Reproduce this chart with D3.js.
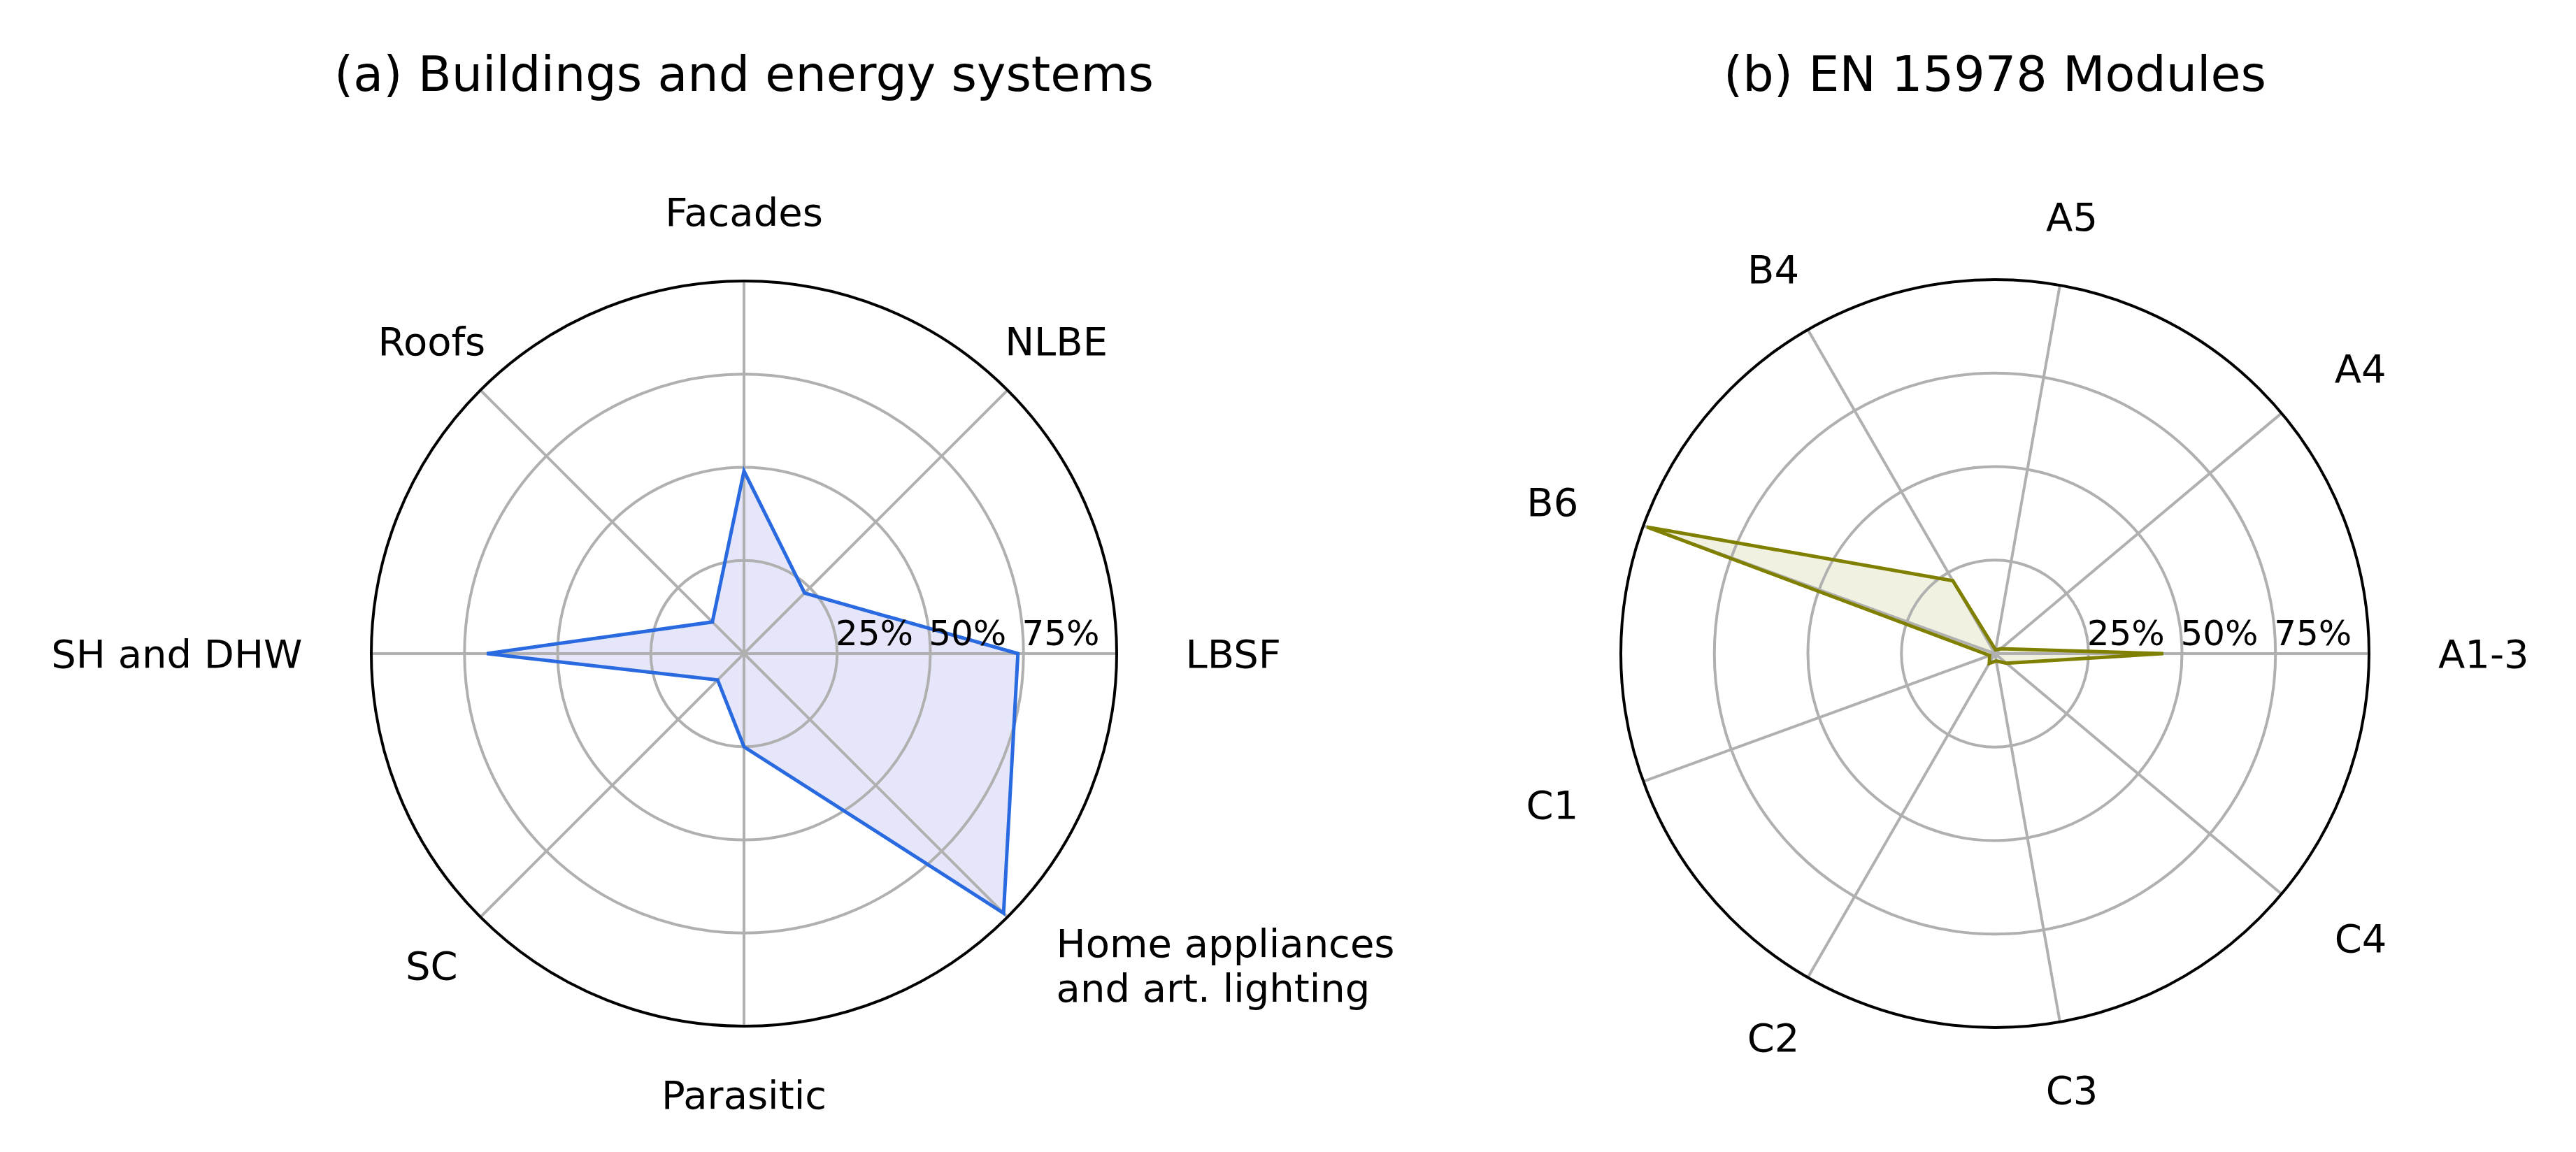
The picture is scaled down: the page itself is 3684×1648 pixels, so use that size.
<!DOCTYPE html>
<html><head><meta charset="utf-8">
<script src="https://cdn.jsdelivr.net/npm/d3@7"></script>
<style>body{margin:0;background:#fff}</style></head>
<body><svg id="c" width="3684" height="1648"></svg>
<script>
const catsA = ["LBSF","NLBE","Facades","Roofs","SH and DHW","SC","Parasitic","Home appliances\nand art. lighting"];
const valsA = [0.735,0.23,0.49,0.12,0.69,0.10,0.25,0.985];
const catsB = ["A1-3","A4","A5","B4","B6","C1","C2","C3","C4"];
const valsB = [0.45,0.02,0.01,0.225,0.99,0.015,0.03,0.02,0.04];
const ticks = [0.25,0.5,0.75];
const tickLabels = ["25%","50%","75%"];
const titles = ["(a) Buildings and energy systems","(b) EN 15978 Modules"];

const svg = d3.select("#c");
const font = "DejaVu Sans, sans-serif";

function radar(cx, cy, R, cats, vals, title, stroke, fill){
  const g = svg.append("g").attr("transform",`translate(${cx},${cy})`);
  const r = d3.scaleLinear().domain([0,1]).range([0,R]);
  const a = d3.scaleLinear().domain([0,cats.length]).range([0,2*Math.PI]);
  const pt = (i,v)=>[r(v)*Math.cos(a(i)), -r(v)*Math.sin(a(i))];
  const line = d3.line().curve(d3.curveLinearClosed);
  const pts = vals.map((v,i)=>pt(i,v));
  g.append("path").attr("d",line(pts)).attr("fill",fill).attr("stroke","none");
  g.selectAll(".ring").data(ticks).join("circle").attr("r",d=>r(d))
    .attr("fill","none").attr("stroke","#b0b0b0").attr("stroke-width",4);
  g.selectAll(".spoke").data(cats).join("line")
    .attr("x1",0).attr("y1",0).attr("x2",(d,i)=>pt(i,1)[0]).attr("y2",(d,i)=>pt(i,1)[1])
    .attr("stroke","#b0b0b0").attr("stroke-width",4);
  g.append("path").attr("d",line(pts)).attr("fill","none")
    .attr("stroke",stroke).attr("stroke-width",5).attr("stroke-linejoin","miter");
  g.append("circle").attr("r",r(1)).attr("fill","none").attr("stroke","#000").attr("stroke-width",4);
  g.selectAll(".tl").data(ticks).join("text")
    .attr("x",d=>r(d+0.1)).attr("y",-12).attr("text-anchor","middle")
    .attr("font-family",font).attr("font-size",50).text((d,i)=>tickLabels[i]);
  cats.forEach((c,i)=>{
    const [x,y] = pt(i,1.185);
    const cs = Math.cos(a(i));
    const lines = c.split("\n");
    let anchor = cs>0.72?"start":cs<-0.72?"end":"middle";
    if(lines.length>1) anchor="start";
    const t = g.append("text").attr("x",x).attr("y",y).attr("text-anchor",anchor)
      .attr("font-family",font).attr("font-size",56);
    const lh = 64;
    lines.forEach((l,j)=>{
      t.append("tspan").attr("x",x).attr("y", y + (j-(lines.length-1)/2)*lh)
        .attr("dominant-baseline","central").text(l);
    });
  });
  svg.append("text").attr("x",cx).attr("y",106).attr("text-anchor","middle")
    .attr("dominant-baseline","central").attr("font-family",font).attr("font-size",70).text(title);
}
radar(1064,935,533,catsA,valsA,titles[0],"#2a6ae0","#e6e6fa");
radar(2853,935,535,catsB,valsB,titles[1],"#808000","#f1f1e1");
</script></body></html>
